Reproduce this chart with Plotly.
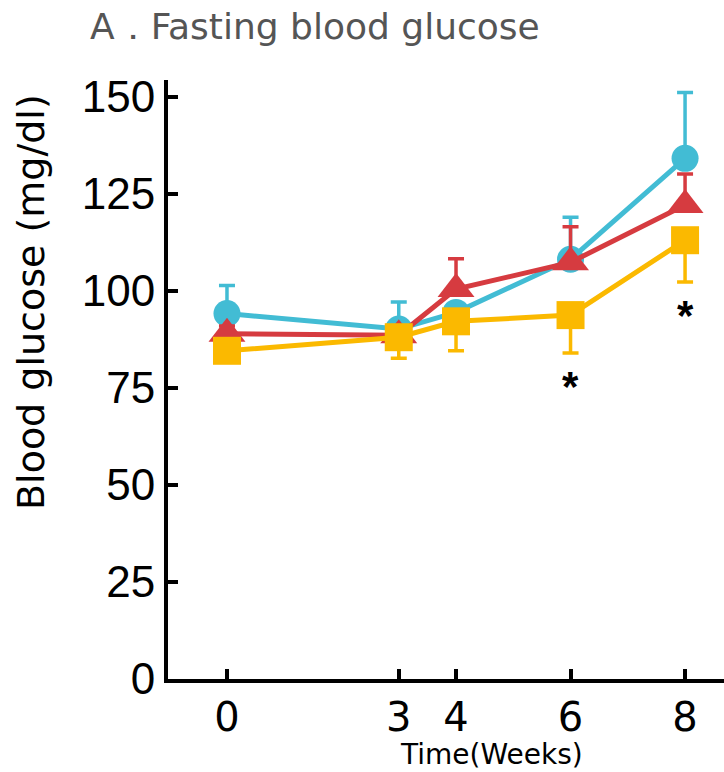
import plotly.graph_objects as go

weeks = [0, 3, 4, 6, 8]
tick_labels = ["0", "3", "4", "6", "8"]

blue_mean = [94.2, 90.2, 94.5, 108.2, 134.2]
blue_err_up = [7.2, 7.0, 2.0, 10.8, 17.0]

red_mean = [89.0, 88.6, 100.5, 107.4, 122.2]
red_err_up = [2.0, 2.0, 7.8, 9.2, 8.0]

yellow_mean = [84.6, 88.1, 92.2, 93.8, 113.1]
yellow_err_down = [2.0, 5.4, 7.6, 9.8, 10.8]

sig_weeks = [6, 8]
sig_labels = ["*", "*"]

y_ticks = [0, 25, 50, 75, 100, 125, 150]

BLUE = "#42BCD4"
RED = "#D63B40"
YELLOW = "#FBB900"

W, H = 724, 772
ML, MR, MT, MB = 168, 0, 80, 93
PW, PH = W - ML - MR, H - MT - MB

fig = go.Figure()

fig.add_trace(go.Scatter(
    x=weeks, y=blue_mean, mode="lines+markers",
    line=dict(color=BLUE, width=5),
    marker=dict(symbol="circle", size=27, color=BLUE),
    error_y=dict(type="data", symmetric=False, array=blue_err_up,
                 arrayminus=[0] * len(weeks), color=BLUE, thickness=3.5, width=8),
    cliponaxis=False, showlegend=False))

fig.add_trace(go.Scatter(
    x=weeks, y=red_mean, mode="lines+markers",
    line=dict(color=RED, width=5),
    marker=dict(symbol="triangle-up", size=32, color=RED),
    error_y=dict(type="data", symmetric=False, array=red_err_up,
                 arrayminus=[0] * len(weeks), color=RED, thickness=3.5, width=8),
    cliponaxis=False, showlegend=False))

fig.add_trace(go.Scatter(
    x=weeks, y=yellow_mean, mode="lines+markers",
    line=dict(color=YELLOW, width=5),
    marker=dict(symbol="square", size=28, color=YELLOW),
    error_y=dict(type="data", symmetric=False, array=[0] * len(weeks),
                 arrayminus=yellow_err_down, color=YELLOW, thickness=3.5, width=8),
    cliponaxis=False, showlegend=False))

for w, lab in zip(sig_weeks, sig_labels):
    i = weeks.index(w)
    fig.add_annotation(
        x=w, y=yellow_mean[i] - yellow_err_down[i], text="<b>" + lab + "</b>",
        showarrow=False, yanchor="top", yshift=-8,
        font=dict(family="Liberation Sans", size=42, color="black"))

# axis titles placed as annotations for exact positioning
fig.add_annotation(
    xref="paper", yref="paper", x=(491 - ML) / PW, y=(H - MB - 737) / PH,
    text="Time(Weeks)", showarrow=False, xanchor="center", yanchor="top",
    borderpad=0,
    font=dict(family="DejaVu Sans", size=28, color="black"))
fig.add_annotation(
    xref="paper", yref="paper", x=(31 - ML) / PW, y=(H - MB - 302) / PH,
    text="Blood glucose (mg/dl)", textangle=-90, showarrow=False,
    xanchor="center", yanchor="middle",
    font=dict(family="DejaVu Sans", size=38, color="black"))

fig.update_layout(
    width=W, height=H,
    margin=dict(l=ML, r=MR, t=MT, b=MB),
    plot_bgcolor="white", paper_bgcolor="white",
    title=dict(text="A．Fasting blood glucose", x=90 / W, xanchor="left",
               y=1 - 26 / H, yanchor="middle",
               font=dict(family="DejaVu Sans", size=36, color="#555555")),
    xaxis=dict(range=[-1.03, 8.68], tickvals=weeks, ticktext=tick_labels,
               showline=True, linecolor="black", linewidth=4,
               ticks="inside", ticklen=10, tickwidth=4, tickcolor="black",
               showgrid=False, zeroline=False,
               tickfont=dict(family="DejaVu Sans", size=40, color="black")),
    yaxis=dict(range=[0, 154.4], tickvals=y_ticks,
               showline=True, linecolor="black", linewidth=4,
               ticks="inside", ticklen=10, tickwidth=4, tickcolor="black",
               showgrid=False, zeroline=False,
               tickfont=dict(family="Liberation Sans", size=44, color="black")),
)

fig.write_html("out.html")
